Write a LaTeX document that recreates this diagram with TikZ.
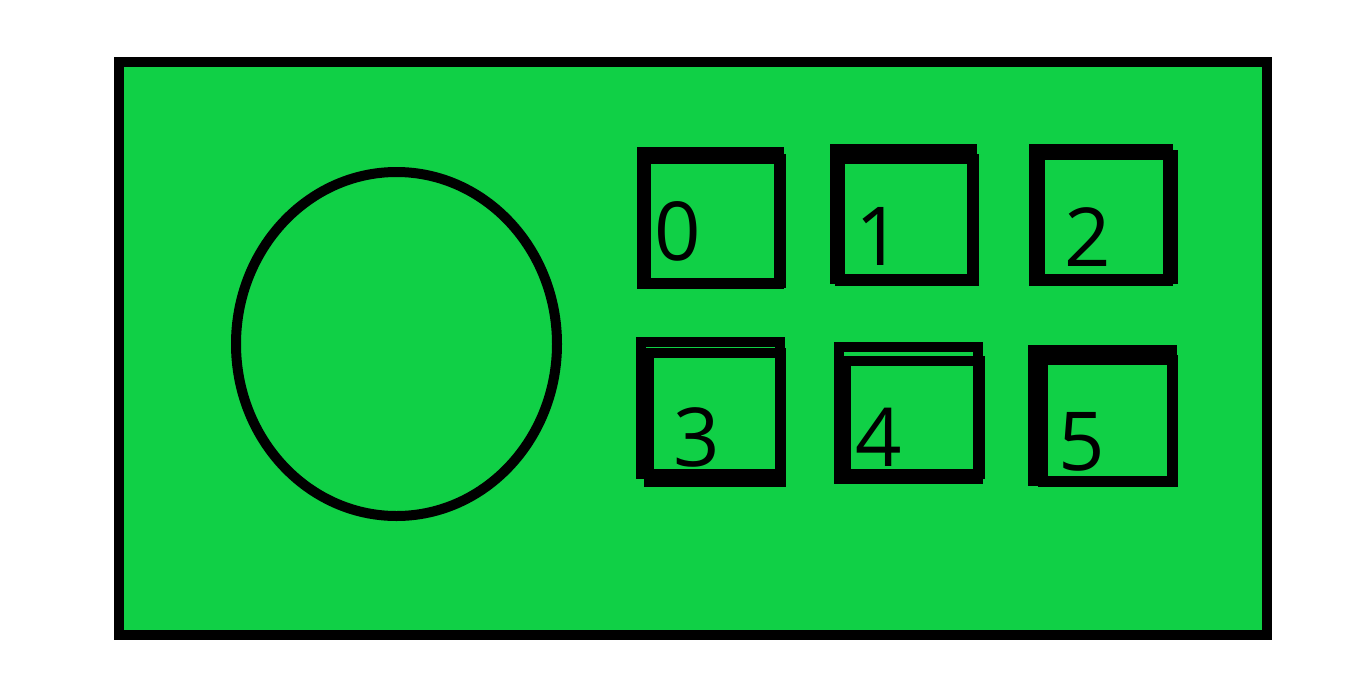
\documentclass[tikz,border=0pt]{standalone}
\usepackage{fontspec}
\setsansfont{Open Sans}
\usepackage{tikz}
\definecolor{panelgreen}{RGB}{16,208,70}

\begin{document}
\begin{tikzpicture}[
    x=0.75pt, y=-0.75pt,
    panel/.style={draw=black, line width=7.5pt, fill=panelgreen},
    knob/.style={draw=black, line width=7.5pt},
    keyline/.style={draw=black, line width=7.5pt},
    keylabel/.style={font=\sffamily\fontsize{61}{61}\selectfont, inner sep=0pt, text=black},
]
\useasboundingbox (0,0) rectangle (1350,679);

% housing
\draw[panel] (119,62) rectangle (1267,635);

% dial
\draw[knob] (396.5,344) ellipse [x radius=160.5, y radius=172];

% keys, each drawn twice by hand
\draw[keyline] (642,152) rectangle (779,284);
\draw[keyline] (646,159) rectangle (781,283);
\draw[keyline] (835,149) rectangle (972,279);
\draw[keyline] (840,159) rectangle (974,281);
\draw[keyline] (1034,149) rectangle (1168,280.7);
\draw[keyline] (1040,155) rectangle (1172.5,279);

\draw[keyline] (641.4,341.7) rectangle (779.6,474);
\draw[keyline] (649,353) rectangle (781,481.7);
\draw[keyline] (839,347) rectangle (978,479);
\draw[keyline] (846,361) rectangle (979.6,473.7);
\draw[keyline] (1033,350) rectangle (1171.8,480.7);
\draw[keyline] (1043,360) rectangle (1172.5,481.7);

% key numbers
\node[keylabel] (k0) at (678,231.7) {0};
\node[keylabel] (k1) at (879,236) {1};
\node[keylabel] (k2) at (1088,237) {2};
\node[keylabel] (k3) at (697,437.5) {3};
\node[keylabel] (k4) at (879,437) {4};
\node[keylabel] (k5) at (1082,442) {5};
\end{tikzpicture}
\end{document}
